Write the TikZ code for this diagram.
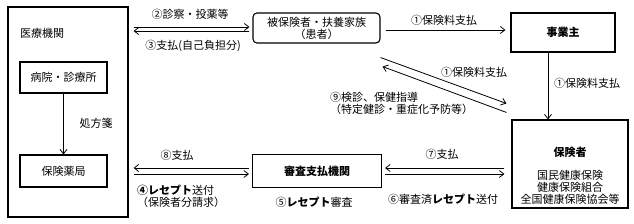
\documentclass[tikz,border=0pt]{standalone}
\usepackage{fontspec}
\setmainfont{Noto Sans CJK JP}
\usetikzlibrary{arrows.meta,calc,positioning}

\begin{document}
\begin{tikzpicture}[
  x=1pt,y=-1pt,font=\fontsize{11}{12}\selectfont,
  flow/.style={-{Straight Barb[length=4.5pt,width=7pt]},line width=0.8pt},
  frame/.style={draw,line width=1.1pt,inner sep=0pt},
  box/.style={draw,line width=1.1pt,align=center,inner sep=2pt},
  person/.style={box,rounded corners=4pt},
  lbl/.style={inner sep=1pt,align=center},
  heading/.style={font=\bfseries\fontsize{11}{12}\selectfont}
]

% Flow of care, premiums and claims between the parties of the health insurance scheme.
\fill[white] (0,0) rectangle (634,223);
\useasboundingbox (0,0) rectangle (634,223);

\node[frame,minimum width=120pt,minimum height=210pt] (medical) at (68,112) {};
\node[lbl] (medname) at (42,33) {医療機関};
\node[box,minimum width=87pt,minimum height=31pt] (hospital) at (63.5,77.5)
  {病院・診療所};
\node[box,minimum width=87pt,minimum height=32pt] (pharmacy) at (63.5,171)
  {保険薬局};
\draw[flow] (hospital) -- (pharmacy);
\node[lbl] (rx) at (96,123) {処方箋};

\node[person,minimum width=127pt,minimum height=30pt] (insured) at (316.5,28)
  {被保険者・扶養家族\\（患者）};
\node[box,heading,minimum width=104pt,minimum height=39pt] (employer) at (563,32.5)
  {事業主};
\node[box,minimum width=116pt,minimum height=88pt] (insurer) at (570,164) {};
\node[lbl,heading] (insname) at (570,152) {保険者};
\node[lbl] (instypes) at (570,187) {国民健康保険\\健康保険組合\\全国健康保険協会等};
\node[box,heading,minimum width=129pt,minimum height=33pt] (review) at (317,171)
  {審査支払機関};

% medical institution <-> patient
\draw[flow] ($(medical.east |- insured.west)+(5,-1)$) -- ($(insured.west)+(-3,-1)$);
\draw[flow] ($(insured.west)+(-3,3)$) -- ($(medical.east |- insured.west)+(5,3)$);
\node[lbl] (care) at (190,14) {②診察・投薬等};
\node[lbl] (copay) at (193,46) {③支払(自己負担分)};

% premiums
\draw[flow] ($(insured.east)+(5,2)$) -- ($(insured.east -| employer.west)+(-5,2)$);
\node[lbl] (premA) at (444,20) {①保険料支払};
\draw[flow] ($(insured.south east)+(0,14)$) -- ($(insurer.north west)+(-5,-16)$);
\draw[flow] ($(insurer.north west)+(-5,-7)$) -- ($(insured.south east)+(2,23)$);
\node[lbl] (premB) at (474,72) {①保険料支払};
\node[lbl,align=left,anchor=west] (checkup) at (329,103)
  {⑨検診、保健指導\\（特定健診・重症化予防等）};
\coordinate (drop) at ($(employer.south)+(-15,0)$);
\draw[flow] (drop) -- (drop |- insurer.north);
\node[lbl,anchor=west] (premC) at (553,83) {①保険料支払};

% claims and payments
\draw[flow] ($(review.west)+(-3,-3)$) -- ($(medical.east |- review.west)+(5,-3)$);
\draw[flow] ($(medical.east |- review.west)+(5,3)$) -- ($(review.west)+(-3,3)$);
\node[lbl] (payA) at (177,155) {⑧支払};
\node[lbl,align=left,anchor=west] (claim) at (136,196)
  {\textbf{④レセプト}送付\\（保険者分請求）};
\node[lbl] (audit) at (314,202) {⑤\textbf{レセプト}審査};
\draw[flow] ($(review.east -| insurer.west)+(-7,-3)$) -- ($(review.east)+(3,-3)$);
\draw[flow] ($(review.east)+(3,3)$) -- ($(review.east -| insurer.west)+(-7,3)$);
\node[lbl] (payB) at (442,154) {⑦支払};
\node[lbl] (sent) at (443,199) {⑥審査済\textbf{レセプト}送付};

\end{tikzpicture}
\end{document}
